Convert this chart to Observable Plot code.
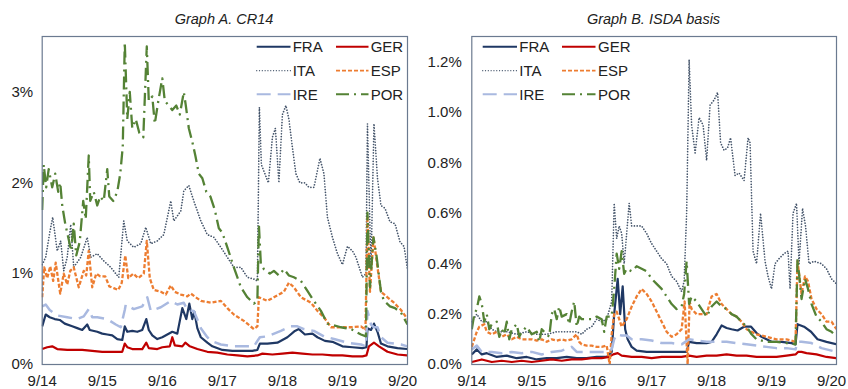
<!DOCTYPE html>
<html><head><meta charset="utf-8">
<script src="https://cdn.jsdelivr.net/npm/d3@7"></script>
<script src="https://cdn.jsdelivr.net/npm/@observablehq/plot@0.6"></script>
<style>
body{margin:0;background:#fff;font-family:"Liberation Sans",Arial,Helvetica,sans-serif;}
#wrap{position:relative;width:848px;height:389px;overflow:hidden;}
.panel{position:absolute;top:0;}
#overlay{position:absolute;left:0;top:0;pointer-events:none;}
</style></head><body>
<div id="wrap"><div class="panel" id="pa" style="left:0"></div><div class="panel" id="pb" style="left:424px"></div><svg id="overlay" width="848" height="389"></svg></div>
<script>
// x = months since Sept 2014
const xTicks = [0, 12, 24, 36, 48, 60, 72];
const xTickLabels = ["9/14", "9/15", "9/16", "9/17", "9/18", "9/19", "9/20"];
const titles = ["Graph A. CR14", "Graph B. ISDA basis"];
const seriesNames = ["FRA", "GER", "ITA", "ESP", "IRE", "POR"];
const seriesColors = ["#1f3864", "#c00000", "#44546a", "#ed7d31", "#a9b9e0", "#548235"];
const seriesDash = [null, null, "0.01 2.8", "4 2", "14 7", "13 5 2 5"];
const seriesCap = ["butt", "butt", "round", "butt", "butt", "butt"];
const seriesWidth = [2.2, 2.2, 1.7, 2.3, 2.5, 2.3];
const legendWidth = [2, 2, 1.3, 1.8, 2, 2];
const yTicksA = [0, 1, 2, 3];
const yTicksB = [0, 0.2, 0.4, 0.6, 0.8, 1.0, 1.2];

// Graph A. CR14 (%)
const A_FRA = [[0,0.42],[0.7,0.55],[1.5,0.52],[2.5,0.5],[3.5,0.49],[4.5,0.45],[6,0.42],[7,0.4],[8,0.38],[9,0.44],[9.5,0.38],[11,0.36],[12,0.34],[13,0.33],[14,0.32],[15,0.28],[16,0.27],[16.5,0.42],[17,0.36],[18,0.37],[19,0.36],[20,0.38],[20.8,0.5],[21.3,0.38],[22,0.32],[23,0.28],[24,0.3],[25,0.33],[26,0.36],[27,0.34],[28,0.62],[28.8,0.5],[29.4,0.67],[30,0.5],[30.4,0.58],[31,0.4],[31.7,0.3],[33,0.24],[34,0.2],[36,0.16],[38,0.15],[40,0.15],[42,0.15],[43,0.16],[43.5,0.23],[45,0.23],[47,0.24],[49,0.3],[50.5,0.37],[51.3,0.39],[52.5,0.33],[54,0.34],[55,0.3],[56.5,0.26],[58,0.25],[60,0.2],[62,0.19],[64,0.18],[64.8,0.19],[65,0.4],[65.7,0.38],[66.3,0.45],[67,0.36],[67.7,0.23],[69,0.2],[71,0.18],[73,0.17]];
const A_GER = [[0,0.17],[1,0.19],[2,0.2],[3,0.17],[5,0.16],[8,0.16],[10,0.15],[12,0.14],[14,0.14],[16,0.14],[16.5,0.23],[17,0.19],[18,0.17],[20,0.17],[20.8,0.24],[21.3,0.18],[23,0.17],[24,0.19],[25.5,0.2],[26,0.3],[26.5,0.21],[28,0.2],[28.6,0.24],[29.5,0.2],[31,0.17],[33,0.14],[35,0.13],[37,0.11],[39,0.1],[41,0.09],[43,0.1],[44,0.12],[46,0.11],[48,0.12],[50,0.13],[52,0.12],[54,0.11],[56,0.11],[58,0.1],[60,0.1],[62,0.09],[64,0.09],[64.8,0.1],[65.3,0.2],[66.3,0.24],[67.3,0.2],[69,0.14],[71,0.11],[73,0.1]];
const A_ITA = [[0,1.1],[0.7,1.18],[1.5,1.45],[2.1,1.62],[3,1.25],[3.7,1.36],[4.3,1.03],[5,1.18],[5.7,1.54],[6.3,1.07],[7.7,1.18],[9,1.4],[9.7,1.18],[11,1.22],[12.3,1.14],[13.7,1.07],[14.7,1.0],[15.3,0.96],[16.3,1.58],[17,1.36],[18.3,1.29],[19.7,1.33],[20.7,1.51],[21.7,1.33],[23,1.36],[24.3,1.43],[25.7,1.8],[26.3,1.58],[27.7,1.69],[28.3,1.91],[29.3,1.97],[30.3,1.8],[31.7,1.58],[33,1.43],[34.3,1.4],[35.7,1.29],[37,1.18],[38.3,1.07],[39.7,1.07],[41,0.96],[42.3,0.94],[43,0.92],[43.4,2.83],[43.8,2.2],[44.5,2.1],[45.2,2.0],[46,2.5],[46.6,2.6],[47.3,2.0],[48,2.75],[48.7,2.85],[49.3,2.7],[50,2.39],[50.7,2.1],[51.5,2.0],[52.5,2.0],[53.3,1.95],[54.3,1.95],[55.5,2.27],[56.3,2.1],[57,1.62],[58,1.4],[59,1.22],[60,1.1],[61,1.3],[62,1.25],[62.7,1.18],[64,0.96],[64.7,1.0],[65,2.65],[65.7,1.05],[66.3,2.65],[67,2.05],[67.7,1.75],[68.5,1.72],[69.5,1.57],[70.5,1.55],[71.5,1.35],[72.3,1.3],[73,1.05]];
const A_ESP = [[0,0.74],[0.4,1.07],[1,0.95],[1.6,1.08],[2.2,0.92],[2.7,1.12],[3.6,0.78],[4.3,1.0],[5,0.88],[5.6,1.03],[6.3,1.07],[7.3,0.85],[8.3,1.03],[8.8,0.98],[9.3,1.25],[10,0.85],[10.8,1.0],[11.6,0.97],[12.6,0.97],[13.4,0.86],[14.3,0.84],[15.2,0.82],[15.9,0.9],[16.6,1.2],[17.2,0.95],[18.2,1.0],[19.2,0.95],[20.3,1.0],[20.9,1.36],[21.5,0.95],[22.3,0.82],[23.7,0.8],[24.7,0.77],[25.7,0.87],[26.5,0.8],[27.7,0.77],[29,0.75],[29.7,0.78],[31.7,0.7],[33.7,0.68],[35.7,0.7],[37,0.62],[38.3,0.55],[40.3,0.48],[42.3,0.39],[43,0.42],[43.3,0.74],[45,0.7],[46.3,0.74],[48.3,0.8],[49.3,0.9],[50.3,0.85],[51.7,0.74],[53.7,0.68],[55,0.59],[56.3,0.52],[57.7,0.41],[59.7,0.41],[61.7,0.41],[63.7,0.42],[64.6,0.38],[65,1.63],[65.5,0.8],[66.2,1.4],[67,1.07],[67.7,0.8],[69,0.74],[70.3,0.68],[71.7,0.6],[73,0.5]];
const A_IRE = [[0,0.64],[0.7,0.66],[1.5,0.6],[3,0.54],[5,0.52],[7,0.5],[8.3,0.53],[9.3,0.61],[10,0.52],[11,0.52],[13,0.5],[14.7,0.44],[15.7,0.41],[16.5,0.6],[16.7,0.66],[18.3,0.61],[20,0.64],[21,0.74],[21.7,0.59],[23.7,0.63],[25.7,0.7],[27,0.66],[28.3,0.68],[29,0.6],[30.3,0.59],[31.7,0.4],[33,0.3],[33.7,0.26],[35.7,0.22],[38.3,0.2],[40.3,0.2],[42.3,0.2],[43.5,0.3],[45,0.31],[47.7,0.37],[49.7,0.42],[51,0.42],[52.3,0.39],[54.3,0.37],[56.3,0.31],[58.3,0.28],[61,0.24],[63.7,0.22],[64.7,0.2],[65,0.59],[65.7,0.44],[66.3,0.41],[67,0.41],[67.7,0.3],[69,0.24],[71.7,0.22],[73,0.2]];
const A_POR = [[0,1.7],[0.3,2.2],[0.8,1.95],[1.3,2.15],[2,1.95],[2.6,2.1],[3.2,1.9],[3.6,2.0],[4,1.75],[4.6,1.55],[5.2,1.4],[5.8,1.25],[6.3,1.55],[6.8,1.2],[7.5,1.35],[8.2,1.8],[8.7,1.6],[9.3,2.3],[9.6,1.8],[10.3,1.9],[11,1.75],[11.6,1.85],[12.3,1.8],[13,2.15],[13.4,1.85],[14.2,1.8],[15,1.9],[15.6,2.1],[16.1,2.4],[16.5,3.55],[17,2.7],[17.5,3.0],[18,2.6],[18.7,2.7],[19.4,2.55],[20.2,2.5],[20.9,3.5],[21.3,2.9],[22,2.95],[22.5,2.65],[23.2,2.9],[24,3.15],[24.5,2.9],[25.3,2.85],[26,2.8],[26.8,2.85],[27.5,2.75],[28.3,3.0],[28.7,2.85],[29.3,2.6],[30,2.45],[30.6,2.3],[31.3,2.1],[32,2.05],[32.8,1.9],[33.6,1.85],[34.5,1.7],[35.3,1.5],[36,1.45],[37,1.29],[38.3,1.07],[39.7,0.85],[41,0.74],[42.3,0.67],[43,0.7],[43.3,1.54],[43.7,1.1],[44.3,1.05],[45.5,1.0],[46.3,1.03],[47.3,0.98],[48.3,1.05],[49.3,0.98],[50.3,0.96],[51.7,0.92],[53,0.81],[54.3,0.7],[55.7,0.59],[57,0.45],[58.3,0.43],[59.7,0.41],[61.7,0.39],[63.7,0.33],[64.7,0.31],[65,1.67],[65.5,0.85],[66.2,1.4],[66.8,1.2],[67.7,0.8],[68.3,0.7],[69.5,0.64],[70.5,0.62],[71.7,0.57],[73,0.44]];

// Graph B. ISDA basis (%)
const B_FRA = [[0,0.04],[1,0.06],[2,0.04],[3,0.045],[5,0.03],[7,0.035],[9,0.025],[11,0.03],[13,0.02],[15,0.025],[17,0.025],[19,0.03],[21,0.025],[23,0.025],[25,0.03],[27,0.03],[28,0.05],[28.5,0.2],[29.2,0.34],[29.7,0.2],[30.2,0.31],[30.7,0.14],[31.2,0.1],[32,0.07],[33,0.055],[35,0.05],[37,0.05],[39,0.05],[41,0.05],[43,0.05],[43.5,0.09],[45,0.085],[47,0.085],[48,0.09],[49,0.12],[50,0.155],[51,0.145],[52,0.14],[53.2,0.135],[54.5,0.15],[55.9,0.15],[57,0.125],[58,0.11],[60,0.09],[62,0.09],[64,0.085],[64.8,0.08],[65.2,0.16],[66.5,0.15],[67.9,0.13],[69.2,0.1],[71,0.09],[73,0.08]];
const B_GER = [[0,0.01],[2,0.02],[4,0.01],[6,0.015],[8,0.01],[10,0.015],[12,0.01],[14,0.015],[16,0.02],[18,0.015],[20,0.02],[22,0.02],[24,0.025],[26,0.025],[27.5,0.03],[28.3,0.04],[29.2,0.045],[30,0.035],[32,0.03],[34,0.03],[36,0.025],[38,0.03],[40,0.03],[42,0.03],[43.5,0.035],[45,0.03],[47,0.035],[49,0.035],[51,0.04],[53,0.035],[55,0.035],[57,0.03],[59,0.03],[61,0.03],[63,0.035],[64.8,0.04],[65.3,0.05],[66,0.05],[67,0.045],[69,0.04],[71,0.03],[73,0.025]];
const B_ITA = [[0,0.17],[1,0.2],[2,0.17],[3,0.17],[4,0.14],[5,0.13],[7,0.13],[9,0.12],[11,0.13],[13,0.12],[15,0.12],[17,0.13],[19,0.13],[21,0.13],[22,0.12],[23,0.14],[24,0.15],[25,0.18],[26,0.17],[27,0.18],[28,0.25],[28.5,0.64],[29,0.5],[29.5,0.55],[30,0.52],[30.5,0.4],[31.5,0.64],[32,0.55],[33,0.55],[34,0.55],[35,0.52],[36,0.48],[37,0.45],[38,0.42],[39,0.4],[40,0.35],[41,0.33],[42,0.29],[42.5,0.33],[43,0.6],[43.5,1.21],[44,0.95],[44.7,0.84],[45.5,0.98],[46.3,0.95],[47,0.81],[47.7,1.03],[48.5,1.05],[49.2,1.08],[49.8,0.88],[50.5,0.85],[51.2,0.86],[51.8,0.9],[52.7,0.75],[53.5,0.76],[54.5,0.73],[55.3,0.9],[55.7,0.88],[56.3,0.45],[57,0.4],[57.8,0.6],[58.7,0.41],[59.3,0.35],[60,0.3],[60.7,0.4],[61.5,0.42],[62.5,0.44],[63.3,0.45],[63.7,0.3],[64.3,0.6],[65,0.64],[65.5,0.4],[66.2,0.62],[66.8,0.55],[67.5,0.4],[68.5,0.41],[70,0.4],[71,0.38],[72,0.34],[73,0.32]];
const B_ESP = [[0,0.07],[0.5,0.1],[1,0.13],[1.5,0.15],[2.5,0.16],[3,0.13],[4,0.12],[5,0.13],[6,0.11],[7,0.12],[8,0.1],[9,0.11],[10,0.1],[11,0.1],[12,0.1],[13,0.095],[14,0.1],[15,0.09],[16,0.1],[17,0.095],[18,0.1],[19,0.095],[20,0.1],[21,0.12],[21.5,0.09],[22,0.08],[23,0.075],[24,0.075],[25,0.07],[26,0.07],[27,0.075],[27.6,0.0],[28,0.12],[28.5,0.2],[29,0.21],[30,0.15],[31,0.18],[32,0.23],[33,0.27],[34,0.3],[35,0.28],[36,0.25],[37,0.21],[38,0.17],[39,0.13],[40,0.11],[41,0.12],[42,0.14],[42.6,0.25],[43.2,0.0],[43.6,0.25],[44,0.22],[45,0.2],[46,0.2],[47,0.2],[48,0.27],[49,0.28],[50,0.24],[51,0.22],[52,0.2],[53,0.19],[54,0.17],[55,0.14],[56,0.13],[57,0.12],[59,0.11],[61,0.1],[63,0.1],[64.8,0.09],[65.2,0.41],[66,0.28],[66.7,0.35],[67.3,0.33],[68,0.26],[69,0.22],[70,0.2],[71,0.17],[72,0.17],[73,0.14]];
const B_IRE = [[0,0.06],[1,0.075],[2,0.05],[4,0.05],[6,0.045],[8,0.05],[10,0.045],[12,0.05],[14,0.04],[16,0.05],[18,0.055],[20,0.07],[21,0.05],[23,0.05],[25,0.05],[27,0.05],[28,0.06],[28.5,0.1],[29,0.12],[30,0.115],[31,0.115],[32,0.1],[34,0.1],[36,0.095],[38,0.085],[40,0.085],[42,0.08],[43.5,0.1],[45,0.095],[47,0.09],[49,0.09],[51,0.09],[53,0.085],[55,0.08],[57,0.075],[59,0.07],[61,0.065],[63,0.065],[64.8,0.06],[65.2,0.09],[66,0.09],[68,0.085],[70,0.065],[72,0.055],[73,0.05]];
const B_POR = [[0,0.14],[0.5,0.2],[1,0.22],[1.5,0.27],[2,0.24],[2.5,0.17],[3,0.2],[3.5,0.14],[4,0.16],[5,0.17],[5.5,0.11],[6,0.14],[6.5,0.12],[7,0.17],[7.5,0.1],[8,0.14],[9,0.16],[9.5,0.11],[10,0.13],[11,0.15],[12,0.12],[13,0.13],[13.5,0.09],[14,0.14],[15,0.12],[15.5,0.11],[16,0.2],[16.5,0.22],[17,0.18],[17.5,0.23],[18,0.19],[19,0.2],[19.5,0.16],[20,0.21],[20.5,0.25],[21,0.15],[21.5,0.19],[22,0.18],[23,0.18],[24,0.18],[25,0.19],[26,0.18],[26.5,0.13],[27,0.19],[28,0.19],[28.5,0.3],[29,0.44],[29.5,0.38],[30,0.45],[30.5,0.36],[31,0.38],[32,0.37],[33,0.39],[34,0.38],[35,0.37],[36,0.34],[37,0.32],[38,0.3],[39,0.27],[40,0.24],[41,0.22],[42,0.23],[42.5,0.28],[43,0.41],[43.5,0.24],[44,0.27],[45,0.25],[46,0.22],[47,0.19],[48,0.23],[49,0.25],[50,0.23],[51,0.22],[52,0.2],[53,0.19],[54,0.17],[55,0.15],[56,0.12],[57,0.1],[59,0.09],[61,0.09],[63,0.085],[64.8,0.08],[65.2,0.42],[66,0.26],[66.7,0.34],[67.3,0.3],[68,0.24],[69,0.19],[70,0.17],[71,0.14],[72,0.13],[73,0.11]];

const panelA = [A_FRA, A_GER, A_ITA, A_ESP, A_IRE, A_POR];
const panelB = [B_FRA, B_GER, B_ITA, B_ESP, B_IRE, B_POR];

const FONT = '"Liberation Sans", Arial, Helvetica, sans-serif';
const FRAME = "#6b7a90";

function makePanel(data, opts) {
  const lines = data.map((s, i) => Plot.line(s, {
    x: d => d[0], y: d => d[1],
    stroke: seriesColors[i], strokeWidth: seriesWidth[i],
    strokeDasharray: seriesDash[i] || undefined,
    strokeLinecap: seriesCap[i],
    strokeLinejoin: "round", clip: true
  }));
  return Plot.plot({
    width: 424, height: 389,
    marginTop: 36, marginBottom: 25,
    marginLeft: opts.ml, marginRight: opts.mr,
    style: {fontFamily: FONT, fontSize: "15px", color: "#222", background: "transparent"},
    x: {domain: [0, 73]},
    y: {domain: opts.ydom},
    marks: [
      ...lines,
      Plot.frame({stroke: FRAME, strokeWidth: 1.2}),
      Plot.axisX({ticks: xTicks, tickSize: 0, tickPadding: 11, label: null,
        tickFormat: d => xTickLabels[xTicks.indexOf(d)], fill: "#222"}),
      Plot.axisY({ticks: opts.yticks, tickSize: 0, tickPadding: opts.yp, label: null,
        tickFormat: opts.yfmt, fill: "#222"})
    ]
  });
}

document.getElementById("pa").appendChild(makePanel(panelA, {
  ml: 41.7, mr: 17, ydom: [0, 3.61], yticks: yTicksA, yp: 9, yfmt: d => d + "%"
}));
document.getElementById("pb").appendChild(makePanel(panelB, {
  ml: 47.3, mr: 12, ydom: [0, 1.302], yticks: yTicksB, yp: 10, yfmt: d => d.toFixed(1) + "%"
}));

// titles and legends
const ov = d3.select("#overlay");
const titleX = [224, 653.5];
titles.forEach((t, i) => {
  ov.append("text").attr("x", titleX[i]).attr("y", 24).attr("text-anchor", "middle")
    .attr("font-family", FONT).attr("font-size", 14.5).attr("font-style", "italic")
    .attr("fill", "#222").text(t);
});
const legendCols = [[[256.7, 290.5, 292.7], [336, 368.5, 370.7]], [[482.7, 517, 519.3], [562, 595.5, 598]]];
const legendRows = [46.7, 70.7, 94.3];
legendCols.forEach(cols => {
  seriesNames.forEach((name, i) => {
    const c = cols[i % 2], r = legendRows[Math.floor(i / 2)];
    ov.append("line").attr("x1", c[0]).attr("x2", c[1]).attr("y1", r).attr("y2", r)
      .attr("stroke", seriesColors[i]).attr("stroke-width", legendWidth[i])
      .attr("stroke-linecap", seriesCap[i])
      .attr("stroke-dasharray", seriesDash[i]);
    ov.append("text").attr("x", c[2]).attr("y", r).attr("dy", "0.36em")
      .attr("font-family", FONT).attr("font-size", 15).attr("fill", "#222").text(name);
  });
});
</script>
</body></html>
